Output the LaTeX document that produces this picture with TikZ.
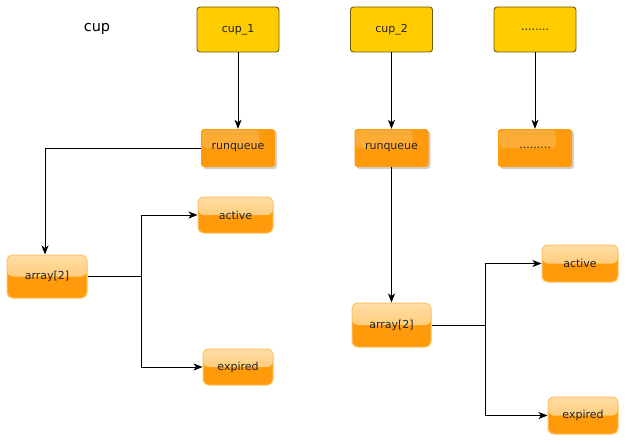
\documentclass[tikz,border=0pt]{standalone}
\usepackage{fontspec}
\setmainfont{DejaVu Sans}
\usetikzlibrary{shadows,arrows.meta}
\definecolor{cupyel}{HTML}{FFCC00}
\definecolor{cupedge}{HTML}{6E5A10}
\definecolor{orng}{HTML}{FF9A0A}
\definecolor{orlight}{HTML}{FFBE55}
\definecolor{ortop}{HTML}{FFDDA6}
\definecolor{oredge}{HTML}{FFC466}
\definecolor{txt}{HTML}{222222}
\tikzset{
  boxfont/.style={font=\fontsize{11}{13}\selectfont, text=txt},
  cupbox/.style={boxfont, draw=cupedge, fill=cupyel, line width=0.9pt, rounded corners=3pt,
    minimum width=82pt, minimum height=45pt, inner sep=0pt},
  rqbox/.style={boxfont, fill=orng, rounded corners=3pt, minimum width=74pt, minimum height=38pt,
    inner sep=0pt,
    drop shadow={shadow xshift=2pt, shadow yshift=-2pt, opacity=0.3, fill=black!60},
    path picture={\fill[white, opacity=0.18, rounded corners=4pt]
      ([xshift=1pt,yshift=-1pt]path picture bounding box.north west) rectangle
      ([xshift=-16pt,yshift=0pt]path picture bounding box.east);}},
  glossy/.style={boxfont, draw=oredge, fill=orng, line width=1pt, rounded corners=6pt,
    inner sep=0pt,
    path picture={\fill[top color=ortop, bottom color=orlight]
      (path picture bounding box.north west) rectangle (path picture bounding box.east);}},
  conn/.style={draw=black, line width=0.8pt},
  arr/.style={conn, -{Stealth[length=9pt,width=7pt,inset=2.5pt]}}
}
\begin{document}
\begin{tikzpicture}[x=1pt,y=-1pt]
\useasboundingbox (0,0) rectangle (626,444);
\node[font=\fontsize{14.5}{16}\selectfont] (cuplbl) at (97,29) {cup};
\node[cupbox] (cup1) at (238,29.5) {cup\_1};
\node[cupbox] (cup2) at (391.5,29.5) {cup\_2};
\node[cupbox] (cup3) at (535,29.5) {........};
\node[rqbox] (rq1) at (238,148) {runqueue};
\node[rqbox] (rq2) at (391.5,148) {runqueue};
\node[rqbox] (rq3) at (535,148) {.........};
\node[glossy, minimum width=75pt, minimum height=36pt] (act1) at (235.5,215) {active};
\node[glossy, minimum width=80pt, minimum height=43pt] (arr1) at (47,276.5) {array[2]};
\node[glossy, minimum width=70pt, minimum height=36pt] (exp1) at (238,367) {expired};
\node[glossy, minimum width=79pt, minimum height=44pt] (arr2) at (391.5,325) {array[2]};
\node[glossy, minimum width=76pt, minimum height=37pt] (act2) at (580,263.5) {active};
\node[glossy, minimum width=70pt, minimum height=37pt] (exp2) at (583,415.5) {expired};
\coordinate (j1) at (141,276.5);
\coordinate (j2) at (485,325);
\draw[arr] (cup1) -- (rq1);
\draw[arr] (cup2) -- (rq2);
\draw[arr] (cup3) -- (rq3);
\draw[arr] (rq1.west) -| ([xshift=-2pt]arr1.north);
\draw[arr] (rq2) -- (arr2);
\draw[conn] (arr1.east) -- (j1);
\draw[arr] (j1) |- (act1.west);
\draw[arr] (j1) |- (exp1.west);
\draw[conn] (arr2.east) -- (j2);
\draw[arr] (j2) |- (act2.west);
\draw[arr] (j2) |- (exp2.west);
\end{tikzpicture}
\end{document}
